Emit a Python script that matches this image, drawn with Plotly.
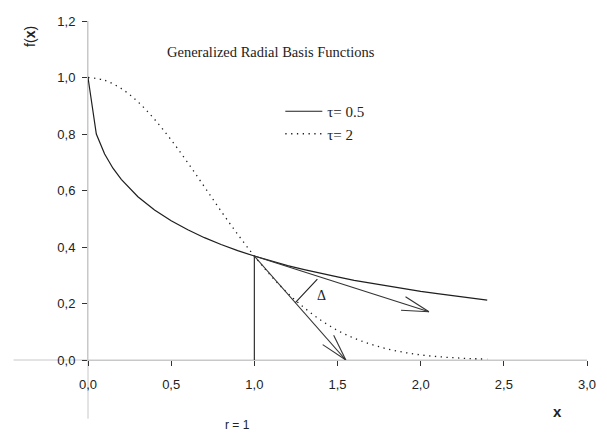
import math
import plotly.graph_objects as go

# ---------------- data ----------------
x_tau05 = [0.0, 0.05, 0.1, 0.15, 0.2, 0.25, 0.3, 0.4, 0.5, 0.6, 0.7, 0.8, 0.9, 1.0,
           1.1, 1.2, 1.3, 1.4, 1.5, 1.6, 1.7, 1.8, 1.9, 2.0, 2.1, 2.2, 2.3, 2.4]
y_tau05 = [1.0, 0.800, 0.729, 0.679, 0.639, 0.607, 0.578, 0.531, 0.493, 0.461, 0.433, 0.409, 0.387, 0.368,
           0.350, 0.334, 0.320, 0.306, 0.294, 0.282, 0.272, 0.261, 0.252, 0.243, 0.235, 0.227, 0.219, 0.212]

x_tau2 = [0.0, 0.1, 0.2, 0.3, 0.4, 0.5, 0.6, 0.7, 0.8, 0.9, 1.0, 1.1, 1.2,
          1.3, 1.4, 1.5, 1.6, 1.7, 1.8, 1.9, 2.0, 2.1, 2.2, 2.3, 2.4]
y_tau2 = [1.0, 0.990, 0.961, 0.914, 0.852, 0.779, 0.698, 0.613, 0.527, 0.445, 0.368, 0.298, 0.237,
          0.185, 0.141, 0.105, 0.077, 0.056, 0.039, 0.027, 0.018, 0.012, 0.008, 0.005, 0.003]

series_names = ["\u03c4= 0.5", "\u03c4= 2"]

# tangent arrows starting at the centre r = 1
arrow_start = (1.0, 0.368)
arrow_ends = [(1.55, 0.0), (2.05, 0.171)]
# radius marker and angle marker
r_line = [(1.0, 0.0), (1.0, 0.368)]
delta_line = [(1.245, 0.202), (1.379, 0.286)]
delta_pos = (1.405, 0.228)

x_ticks = [0.0, 0.5, 1.0, 1.5, 2.0, 2.5, 3.0]
y_ticks = [0.0, 0.2, 0.4, 0.6, 0.8, 1.0, 1.2]

# ---------------- layout geometry (screen pixels) ----------------
W, H = 607, 437
OFF = 8  # default page body margin
ML, MR, MT, MB = 87.5, 20, 13.3, 77          # wanted plot box on screen
PW, PH = W - ML - MR, H - MT - MB
XR, YR = (0, 3.0), (0, 1.2)
sx = PW / (XR[1] - XR[0])
sy = PH / (YR[1] - YR[0])
Y0 = H - MB  # screen y of the x axis


def px(x):
    return (x - ML) / PW


def py(y):
    return (Y0 - y) / PH


INK = "#1e1e1e"
AX = "#c8c8c8"
SERIF = "Liberation Serif"
SANS = "Liberation Sans"

fig = go.Figure()
fig.add_trace(go.Scatter(x=x_tau05, y=y_tau05, mode="lines", name=series_names[0],
                         line=dict(color=INK, width=1.2)))
fig.add_trace(go.Scatter(x=x_tau2, y=y_tau2, mode="lines", name=series_names[1],
                         line=dict(color=INK, width=1.3, dash="1.3px,4.5px", shape="spline")))

shapes = []


def seg(p, q, color=INK, width=1.1):
    shapes.append(dict(type="line", xref="x", yref="y", x0=p[0], y0=p[1], x1=q[0], y1=q[1],
                       line=dict(color=color, width=width)))


seg(r_line[0], r_line[1])
seg(delta_line[0], delta_line[1])
for end in arrow_ends:
    seg(arrow_start, end, color="#333333")
    # open arrow head, computed in pixel space
    dxp = (end[0] - arrow_start[0]) * sx
    dyp = (end[1] - arrow_start[1]) * sy
    ang = math.atan2(dyp, dxp) + math.pi
    for da in (-math.radians(15), math.radians(15)):
        a = ang + da
        bx = end[0] + 28 * math.cos(a) / sx
        by = end[1] + 28 * math.sin(a) / sy
        seg(end, (bx, by), color="#333333")

# axis lines extending past the origin
shapes.append(dict(type="line", xref="paper", yref="paper", x0=px(13), x1=1, y0=0, y1=0,
                   line=dict(color=AX, width=1), layer="below"))
shapes.append(dict(type="line", xref="paper", yref="paper", x0=0, x1=0, y0=py(420), y1=1,
                   line=dict(color=AX, width=1), layer="below"))

annotations = [
    dict(text="Generalized Radial Basis Functions", xref="paper", yref="paper",
         x=px(271), y=py(45), showarrow=False, xanchor="center", yanchor="middle",
         font=dict(family=SERIF, size=14.5, color="#222")),
    dict(text="f(<b>x</b>)", xref="paper", yref="paper", x=px(30), y=py(29),
         textangle=-90, showarrow=False, xanchor="center", yanchor="middle",
         font=dict(family=SANS, size=14, color="#222")),
    dict(text="<b>x</b>", xref="paper", yref="paper", x=px(557), y=py(413),
         showarrow=False, xanchor="center", yanchor="middle",
         font=dict(family=SANS, size=15, color="#222")),
    dict(text="r = 1", xref="paper", yref="paper", x=px(237), y=py(426),
         showarrow=False, xanchor="center", yanchor="middle",
         font=dict(family=SANS, size=12, color="#222")),
    dict(text="\u0394", xref="x", yref="y", x=delta_pos[0], y=delta_pos[1],
         showarrow=False, xanchor="center", yanchor="middle",
         font=dict(family=SERIF, size=14, color="#222")),
]

axis_common = dict(showgrid=False, zeroline=False, showline=True, linecolor=AX, linewidth=1,
                   ticks="outside", ticklen=5, tickcolor="#333", tickwidth=1,
                   ticklabeloverflow="allow",
                   tickformat=".1f", tickfont=dict(family=SANS, size=13, color="#222"))

fig.update_layout(
    width=W, height=H,
    margin=dict(l=ML - OFF, r=MR + OFF, t=MT - OFF, b=MB + OFF, pad=0),
    paper_bgcolor="white", plot_bgcolor="white",
    separators=", ",
    xaxis=dict(range=list(XR), tickvals=x_ticks, ticklabelstandoff=7, **axis_common),
    yaxis=dict(range=list(YR), tickvals=y_ticks, ticklabelstandoff=4, **axis_common),
    shapes=shapes,
    annotations=annotations,
    showlegend=True,
    legend=dict(x=px(280), y=py(89), xanchor="left", yanchor="top",
                bgcolor="rgba(0,0,0,0)", borderwidth=0, itemwidth=37,
                font=dict(family=SERIF, size=15, color="#222")),
)

fig.write_html("out.html")
